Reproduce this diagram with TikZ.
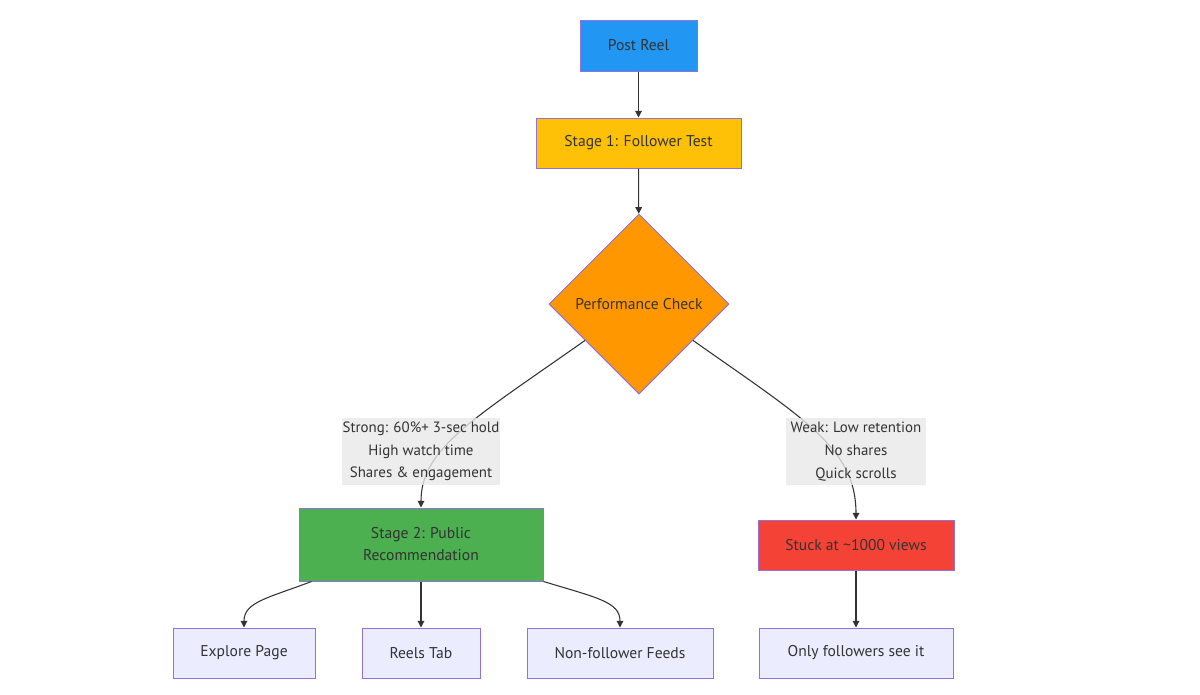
\documentclass[tikz,border=0pt]{standalone}
\usepackage{fontspec}
\setmainfont{PT Sans}
\usetikzlibrary{shapes.geometric,arrows.meta}
\definecolor{txtgray}{HTML}{333333}
\definecolor{edgegray}{HTML}{333333}
\definecolor{bordpurple}{HTML}{9370DB}
\definecolor{postblue}{HTML}{2196F3}
\definecolor{stageamber}{HTML}{FFC107}
\definecolor{checkorange}{HTML}{FF9800}
\definecolor{publicgreen}{HTML}{4CAF50}
\definecolor{stuckred}{HTML}{F44336}
\definecolor{leaflav}{HTML}{ECECFF}
\definecolor{lblgray}{HTML}{E8E8E8}

\begin{document}
\begin{tikzpicture}[
    x=0.75pt, y=-0.75pt,
    box/.style={rectangle, draw=bordpurple, line width=0.75pt, inner sep=0pt, align=center, text=txtgray, minimum height=37.5pt, font=\fontsize{11.7}{16.5}\selectfont},
    dec/.style={diamond, aspect=1, draw=bordpurple, line width=0.75pt, inner sep=0pt, minimum size=135pt, text=txtgray, font=\fontsize{11.7}{16.5}\selectfont},
    lbl/.style={rectangle, fill=lblgray, fill opacity=0.8, text opacity=1, inner sep=0pt, align=center, text=txtgray, minimum height=50.25pt, font=\fontsize{11.2}{17}\selectfont},
    arr/.style={-{Triangle[length=5pt,width=5pt]}, draw=edgegray, line width=0.8pt}
]
\useasboundingbox (0,0) rectangle (1200,694);

\node[box, fill=postblue, minimum width=87.75pt, minimum height=38.25pt] (post) at (638.5,45.5) {Post Reel};
\node[box, fill=stageamber, minimum width=153.75pt] (st1) at (638.5,143) {Stage 1: Follower Test};
\node[dec, fill=checkorange] (chk) at (639,304) {Performance Check};
\node[box, fill=publicgreen, minimum width=183pt, minimum height=54.75pt] (st2) at (421,544.5) {Stage 2: Public\\Recommendation};
\node[box, fill=stuckred, minimum width=147pt] (stk) at (856,545) {Stuck at \textasciitilde1000 views};
\node[box, fill=leaflav, minimum width=106.5pt] (expl) at (244,653) {Explore Page};
\node[box, fill=leaflav, minimum width=88.5pt] (reels) at (421,653) {Reels Tab};
\node[box, fill=leaflav, minimum width=139.5pt] (nonf) at (620,653) {Non-follower Feeds};
\node[box, fill=leaflav, minimum width=145.5pt] (only) at (856,653) {Only followers see it};

\draw[arr] (post) -- (st1);
\draw[arr] (st1) -- (chk);
\draw[arr] (chk.214) .. controls (475,418) and (421,448) .. (st2.north);
\draw[arr] (chk.-34) .. controls (803,418) and (856,448) .. (stk.north);
\draw[arr] ([xshift=9.75pt]st2.south west) .. controls (268,598) and (244,602) .. (expl.north);
\draw[arr] (st2) -- (reels);
\draw[arr] (st2.south east) .. controls (598,598) and (620,602) .. (nonf.north);
\draw[arr] (stk) -- (only);

% edge labels on top of the lines
\node[lbl, minimum width=118.5pt] (strong) at (421,451.5) {Strong: 60\%+ 3-sec hold\\High watch time\\Shares \& engagement};
\node[lbl, minimum width=105pt] (weak) at (856,451.5) {Weak: Low retention\\No shares\\Quick scrolls};
\end{tikzpicture}
\end{document}
